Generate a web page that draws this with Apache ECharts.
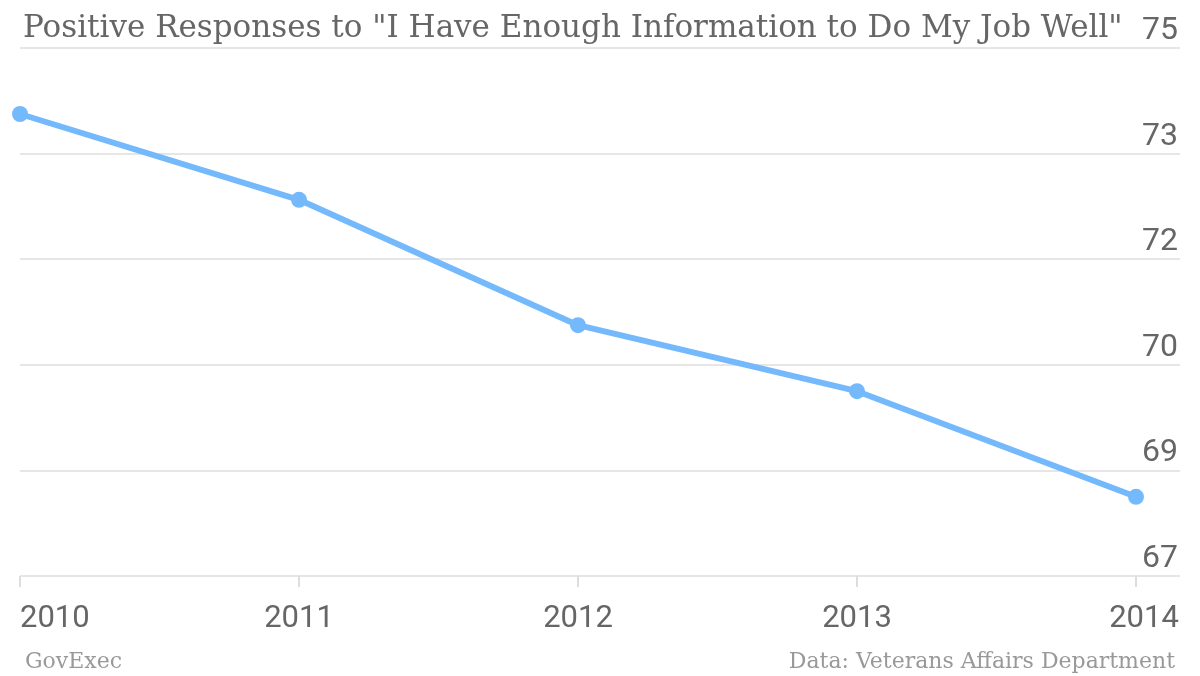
<!DOCTYPE html>
<html>
<head>
<meta charset="utf-8">
<script src="https://cdn.jsdelivr.net/npm/echarts@6/dist/echarts.min.js"></script>
<style>html,body{margin:0;padding:0;background:#fff}#c{width:1200px;height:676px}</style>
</head>
<body>
<div id="c"></div>
<script>
const years = ['2010', '2011', '2012', '2013', '2014'];
const positive = [74.0, 72.7, 70.8, 69.8, 68.2];
const axisMin = 67;
const axisMax = 75;
const axisStep = 1.6;
const titleText = 'Positive Responses to "I Have Enough Information to Do My Job Well"';
const sourceLeft = 'GovExec';
const sourceRight = 'Data: Veterans Affairs Department';

const chart = echarts.init(document.getElementById('c'));
const span = axisMax - axisMin;
const numFont = 'Roboto, "Liberation Sans", sans-serif';
const serifFont = '"DejaVu Serif", serif';

chart.setOption({
  animation: false,
  backgroundColor: '#fff',
  title: [
    { text: titleText, left: 18, top: 8,
      textStyle: { fontFamily: serifFont, fontSize: 31, fontWeight: 'normal', color: '#666' } },
    { text: sourceLeft, left: 20, top: 646,
      textStyle: { fontFamily: serifFont, fontSize: 22, fontWeight: 'normal', color: '#999' } },
    { text: sourceRight, right: 20, top: 646,
      textStyle: { fontFamily: serifFont, fontSize: 22, fontWeight: 'normal', color: '#999' } }
  ],
  grid: [
    { left: 20, right: 20, top: 48, bottom: 100 },
    { left: 20, right: 64, top: 48, bottom: 100 }
  ],
  xAxis: [
    { gridIndex: 0, type: 'category', data: years, show: false, boundaryGap: false },
    { gridIndex: 1, type: 'category', data: years, boundaryGap: false, offset: 16,
      axisLine: { show: false },
      axisTick: { show: true, length: 11, lineStyle: { color: '#ddd', width: 2 } },
      axisLabel: {
        margin: 12, fontFamily: numFont, fontSize: 31, color: '#666',
        alignMinLabel: 'left',
        formatter: (v, i) => i === years.length - 1 ? '{last|' + v + '}' : v,
        rich: { last: { fontFamily: numFont, fontSize: 31, color: '#666', padding: [0, 0, 0, 16] } }
      },
      splitLine: { show: false }
    }
  ],
  yAxis: [
    { gridIndex: 0, type: 'value', position: 'right', min: 0, max: span, interval: axisStep,
      axisLine: { show: false }, axisTick: { show: false },
      splitLine: { show: true, lineStyle: { color: '#e6e6e6', width: 2 } },
      axisLabel: {
        inside: true, margin: 2, align: 'right', verticalAlign: 'bottom',
        padding: [0, 0, 1, 0],
        fontFamily: numFont, fontSize: 32, color: '#666',
        formatter: v => String(Math.round(v + axisMin))
      }
    },
    { gridIndex: 1, type: 'value', min: 0, max: span, interval: axisStep, show: false }
  ],
  series: [{
    type: 'line', xAxisIndex: 1, yAxisIndex: 1,
    data: positive.map(v => +(v - axisMin).toFixed(4)),
    lineStyle: { color: '#74b9fb', width: 6 },
    itemStyle: { color: '#74b9fb' },
    symbol: 'circle', symbolSize: 16, showSymbol: true
  }]
});
</script>
</body>
</html>
